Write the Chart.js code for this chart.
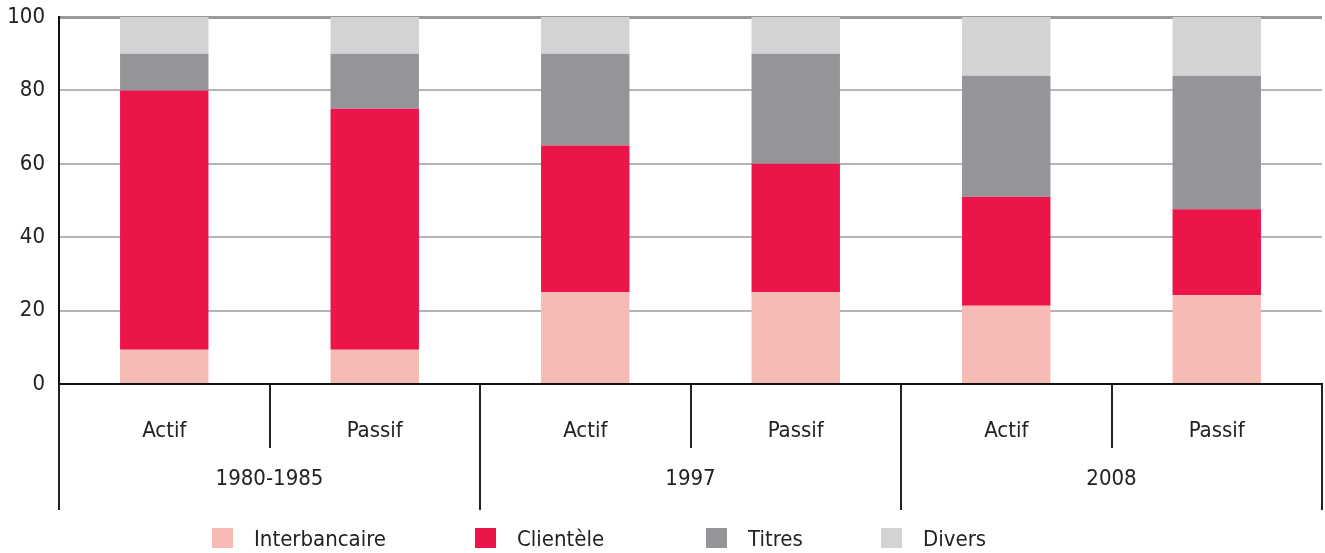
<!DOCTYPE html>
<html lang="fr">
<head>
<meta charset="utf-8">
<title>Structure des bilans bancaires</title>
<script src="https://cdn.jsdelivr.net/npm/chart.js@4.4.1/dist/chart.umd.min.js"></script>
<style>
  html, body { margin: 0; padding: 0; background: #fff; }
  #wrap { position: relative; width: 1325px; height: 553px; }
  #legend {
    position: absolute; left: 212px; top: 528px; height: 20px;
    display: flex; align-items: center;
    font-family: 'DejaVu Sans Condensed', 'DejaVu Sans', sans-serif;
    font-size: 22px; color: #222;
  }
  #legend .item { display: flex; align-items: center; gap: 21px; white-space: nowrap; }
  #legend .item:nth-child(1) { width: 263px; }
  #legend .item:nth-child(2) { width: 231px; }
  #legend .item:nth-child(3) { width: 175px; }
  #legend .box { width: 21px; height: 20px; flex: none; }
</style>
</head>
<body>
<div id="wrap">
  <canvas id="chart" width="1325" height="553"></canvas>
  <div id="legend"></div>
</div>
<script>
// ── Données ────────────────────────────────────────────────────────────────
const categories = ['Actif', 'Passif', 'Actif', 'Passif', 'Actif', 'Passif'];
const periods = ['1980-1985', '1997', '2008'];
const yTicks = [0, 20, 40, 60, 80, 100];

const interbancaire = [9.3, 9.3, 25, 25, 21.3, 24.2];
const clientele     = [70.7, 65.7, 40, 35, 29.7, 23.4];
const titres        = [10, 15, 25, 30, 33, 36.4];
const divers        = [10, 10, 10, 10, 16, 16];

const seriesNames  = ['Interbancaire', 'Clientèle', 'Titres', 'Divers'];
const seriesColors = ['#f6bbb4', '#ec1549', '#949499', '#d3d3d5'];

// ── Style ──────────────────────────────────────────────────────────────────
const FONT = "'DejaVu Sans Condensed', 'DejaVu Sans', sans-serif";
const TEXT = '#222';
const CLEAR = 'rgba(0,0,0,0)';
Chart.defaults.font.family = FONT;
Chart.defaults.font.size = 22;
Chart.defaults.color = TEXT;

const datasets = [interbancaire, clientele, titres, divers].map((values, i) => ({
  label: seriesNames[i],
  data: values,
  backgroundColor: seriesColors[i],
  borderWidth: 0,
  categoryPercentage: 1,
  barPercentage: 0.42,
}));

// Légende en HTML : l'espacement de la légende native est lié à son padding vertical
function buildLegend() {
  const el = document.getElementById('legend');
  seriesNames.forEach((name, i) => {
    const item = document.createElement('div');
    item.className = 'item';
    const box = document.createElement('span');
    box.className = 'box';
    box.style.background = seriesColors[i];
    const txt = document.createElement('span');
    txt.textContent = name;
    item.append(box, txt);
    el.appendChild(item);
  });
}

new Chart(document.getElementById('chart'), {
  type: 'bar',
  data: { labels: categories, datasets },
  options: {
    responsive: false,
    animation: false,
    layout: { padding: { top: 17, right: 3, left: 0, bottom: 45 } },
    plugins: {
      tooltip: { enabled: false },
      legend: { display: false },
    },
    scales: {
      y: {
        stacked: true,
        min: 0,
        max: 100,
        afterFit: s => { s.width = 59; },
        afterBuildTicks: s => { s.ticks = yTicks.map(v => ({ value: v })); },
        ticks: { padding: 0, color: TEXT },
        border: { color: '#111', width: 2 },
        grid: {
          drawTicks: true,
          tickLength: 14,
          tickColor: CLEAR,
          color: c => c.tick && c.tick.value === 100 ? '#9a9a9a' : '#b5b5b5',
          lineWidth: c => c.tick && c.tick.value === 100 ? 3 : 2,
        },
      },
      x: {
        stacked: true,
        afterFit: s => { s.height = 64; },
        ticks: { padding: -30, color: TEXT, maxRotation: 0, autoSkip: false },
        border: { color: '#111', width: 2 },
        grid: {
          offset: true,
          tickLength: 64,
          tickColor: '#222',
          tickWidth: 2,
          lineWidth: 2,
          color: c => c.index === categories.length ? '#b0b0b0' : CLEAR,
        },
      },
      x2: {
        type: 'category',
        position: 'bottom',
        labels: periods,
        offset: true,
        weight: 1,
        afterFit: s => { s.height = 60; },
        ticks: { padding: -44, color: TEXT, maxRotation: 0, autoSkip: false },
        border: { display: false },
        grid: {
          offset: true,
          drawOnChartArea: false,
          tickLength: 62,
          color: '#222',
          lineWidth: 2,
        },
      },
    },
  },
});

buildLegend();
</script>
</body>
</html>
